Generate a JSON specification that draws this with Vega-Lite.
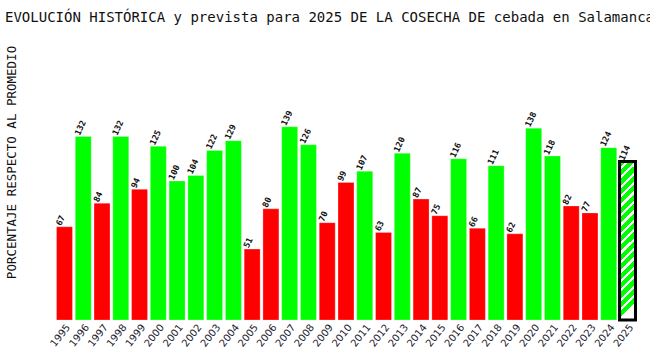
{
  "$schema": "https://vega.github.io/schema/vega-lite/v6.json",
  "autosize": {"type": "none"},
  "padding": {"left": 55, "top": 42, "right": 13, "bottom": 37},
  "width": 582,
  "height": 278,
  "background": "white",
  "config": {"view": {"stroke": null}},
  "title": {
    "text": "EVOLUCIÓN HISTÓRICA y prevista para 2025 DE LA COSECHA DE cebada en Salamanca",
    "anchor": "start",
    "frame": "group",
    "dx": -50,
    "offset": 6,
    "baseline": "alphabetic",
    "font": "DejaVu Sans Mono",
    "fontSize": 14,
    "fontWeight": "normal",
    "color": "#111111"
  },
  "data": {
    "values": [
      {"anio": "1995", "valor": 67, "tipo": "Inferior"},
      {"anio": "1996", "valor": 132, "tipo": "Superior"},
      {"anio": "1997", "valor": 84, "tipo": "Inferior"},
      {"anio": "1998", "valor": 132, "tipo": "Superior"},
      {"anio": "1999", "valor": 94, "tipo": "Inferior"},
      {"anio": "2000", "valor": 125, "tipo": "Superior"},
      {"anio": "2001", "valor": 100, "tipo": "Superior"},
      {"anio": "2002", "valor": 104, "tipo": "Superior"},
      {"anio": "2003", "valor": 122, "tipo": "Superior"},
      {"anio": "2004", "valor": 129, "tipo": "Superior"},
      {"anio": "2005", "valor": 51, "tipo": "Inferior"},
      {"anio": "2006", "valor": 80, "tipo": "Inferior"},
      {"anio": "2007", "valor": 139, "tipo": "Superior"},
      {"anio": "2008", "valor": 126, "tipo": "Superior"},
      {"anio": "2009", "valor": 70, "tipo": "Inferior"},
      {"anio": "2010", "valor": 99, "tipo": "Inferior"},
      {"anio": "2011", "valor": 107, "tipo": "Superior"},
      {"anio": "2012", "valor": 63, "tipo": "Inferior"},
      {"anio": "2013", "valor": 120, "tipo": "Superior"},
      {"anio": "2014", "valor": 87, "tipo": "Inferior"},
      {"anio": "2015", "valor": 75, "tipo": "Inferior"},
      {"anio": "2016", "valor": 116, "tipo": "Superior"},
      {"anio": "2017", "valor": 66, "tipo": "Inferior"},
      {"anio": "2018", "valor": 111, "tipo": "Superior"},
      {"anio": "2019", "valor": 62, "tipo": "Inferior"},
      {"anio": "2020", "valor": 138, "tipo": "Superior"},
      {"anio": "2021", "valor": 118, "tipo": "Superior"},
      {"anio": "2022", "valor": 82, "tipo": "Inferior"},
      {"anio": "2023", "valor": 77, "tipo": "Inferior"},
      {"anio": "2024", "valor": 124, "tipo": "Superior"},
      {"anio": "2025", "valor": 114, "tipo": "Previsión"}
    ]
  },
  "encoding": {
    "x": {
      "field": "anio",
      "type": "nominal",
      "sort": null,
      "scale": {"paddingInner": 0.15, "paddingOuter": 0.08},
      "axis": {
        "title": null,
        "labelAngle": -52,
        "labelAlign": "right",
        "labelBaseline": "top",
        "labelFont": "DejaVu Sans",
        "labelFontSize": 10,
        "labelColor": "#1a1a2e",
        "labelPadding": 2,
        "ticks": false,
        "domain": false,
        "grid": false
      }
    },
    "y": {
      "field": "valor",
      "type": "quantitative",
      "scale": {"domain": [0, 200], "nice": false, "zero": true},
      "axis": {
        "title": "PORCENTAJE RESPECTO AL PROMEDIO",
        "titleFont": "DejaVu Sans Mono",
        "titleFontSize": 12.5,
        "titleFontWeight": "normal",
        "titleColor": "#111111",
        "titleAngle": -90,
        "titleAlign": "center",
        "titleBaseline": "alphabetic",
        "titleX": -40,
        "titleY": 120,
        "labels": false,
        "ticks": false,
        "domain": false,
        "grid": false
      }
    }
  },
  "layer": [
    {
      "transform": [{"filter": "datum.tipo != 'Previsión'"}],
      "mark": {"type": "bar", "stroke": "#ffffff", "strokeWidth": 0.5, "strokeOpacity": 0.5},
      "encoding": {
        "color": {
          "field": "tipo",
          "type": "nominal",
          "scale": {"domain": ["Superior", "Inferior"], "range": ["#00ff00", "#ff0000"]},
          "legend": null
        }
      }
    },
    {
      "transform": [{"filter": "datum.tipo == 'Previsión'"}],
      "mark": {
        "type": "bar",
        "stroke": "#000000",
        "strokeWidth": 3,
        "fill": {
          "gradient": "linear",
          "x1": 0, "y1": 0, "x2": 0.1, "y2": 1,
          "stops": [
            {"offset": 0, "color": "#00ff00"}, {"offset": 0.0382, "color": "#00ff00"}, {"offset": 0.0382, "color": "#ffffff"}, {"offset": 0.0588, "color": "#ffffff"},
            {"offset": 0.0588, "color": "#00ff00"}, {"offset": 0.0971, "color": "#00ff00"}, {"offset": 0.0971, "color": "#ffffff"}, {"offset": 0.1176, "color": "#ffffff"},
            {"offset": 0.1176, "color": "#00ff00"}, {"offset": 0.1559, "color": "#00ff00"}, {"offset": 0.1559, "color": "#ffffff"}, {"offset": 0.1765, "color": "#ffffff"},
            {"offset": 0.1765, "color": "#00ff00"}, {"offset": 0.2147, "color": "#00ff00"}, {"offset": 0.2147, "color": "#ffffff"}, {"offset": 0.2353, "color": "#ffffff"},
            {"offset": 0.2353, "color": "#00ff00"}, {"offset": 0.2735, "color": "#00ff00"}, {"offset": 0.2735, "color": "#ffffff"}, {"offset": 0.2941, "color": "#ffffff"},
            {"offset": 0.2941, "color": "#00ff00"}, {"offset": 0.3324, "color": "#00ff00"}, {"offset": 0.3324, "color": "#ffffff"}, {"offset": 0.3529, "color": "#ffffff"},
            {"offset": 0.3529, "color": "#00ff00"}, {"offset": 0.3912, "color": "#00ff00"}, {"offset": 0.3912, "color": "#ffffff"}, {"offset": 0.4118, "color": "#ffffff"},
            {"offset": 0.4118, "color": "#00ff00"}, {"offset": 0.45, "color": "#00ff00"}, {"offset": 0.45, "color": "#ffffff"}, {"offset": 0.4706, "color": "#ffffff"},
            {"offset": 0.4706, "color": "#00ff00"}, {"offset": 0.5088, "color": "#00ff00"}, {"offset": 0.5088, "color": "#ffffff"}, {"offset": 0.5294, "color": "#ffffff"},
            {"offset": 0.5294, "color": "#00ff00"}, {"offset": 0.5676, "color": "#00ff00"}, {"offset": 0.5676, "color": "#ffffff"}, {"offset": 0.5882, "color": "#ffffff"},
            {"offset": 0.5882, "color": "#00ff00"}, {"offset": 0.6265, "color": "#00ff00"}, {"offset": 0.6265, "color": "#ffffff"}, {"offset": 0.6471, "color": "#ffffff"},
            {"offset": 0.6471, "color": "#00ff00"}, {"offset": 0.6853, "color": "#00ff00"}, {"offset": 0.6853, "color": "#ffffff"}, {"offset": 0.7059, "color": "#ffffff"},
            {"offset": 0.7059, "color": "#00ff00"}, {"offset": 0.7441, "color": "#00ff00"}, {"offset": 0.7441, "color": "#ffffff"}, {"offset": 0.7647, "color": "#ffffff"},
            {"offset": 0.7647, "color": "#00ff00"}, {"offset": 0.8029, "color": "#00ff00"}, {"offset": 0.8029, "color": "#ffffff"}, {"offset": 0.8235, "color": "#ffffff"},
            {"offset": 0.8235, "color": "#00ff00"}, {"offset": 0.8618, "color": "#00ff00"}, {"offset": 0.8618, "color": "#ffffff"}, {"offset": 0.8824, "color": "#ffffff"},
            {"offset": 0.8824, "color": "#00ff00"}, {"offset": 0.9206, "color": "#00ff00"}, {"offset": 0.9206, "color": "#ffffff"}, {"offset": 0.9412, "color": "#ffffff"},
            {"offset": 0.9412, "color": "#00ff00"}, {"offset": 0.9794, "color": "#00ff00"}, {"offset": 0.9794, "color": "#ffffff"}, {"offset": 1, "color": "#ffffff"}
          ]
        }
      }
    },
    {
      "mark": {
        "type": "text",
        "angle": -65,
        "align": "left",
        "baseline": "middle",
        "dx": -1,
        "dy": -6.5,
        "font": "DejaVu Sans Mono",
        "fontSize": 8.5,
        "fontWeight": "bold",
        "color": "#111111"
      },
      "encoding": {
        "text": {"field": "valor", "type": "quantitative"}
      }
    }
  ]
}
